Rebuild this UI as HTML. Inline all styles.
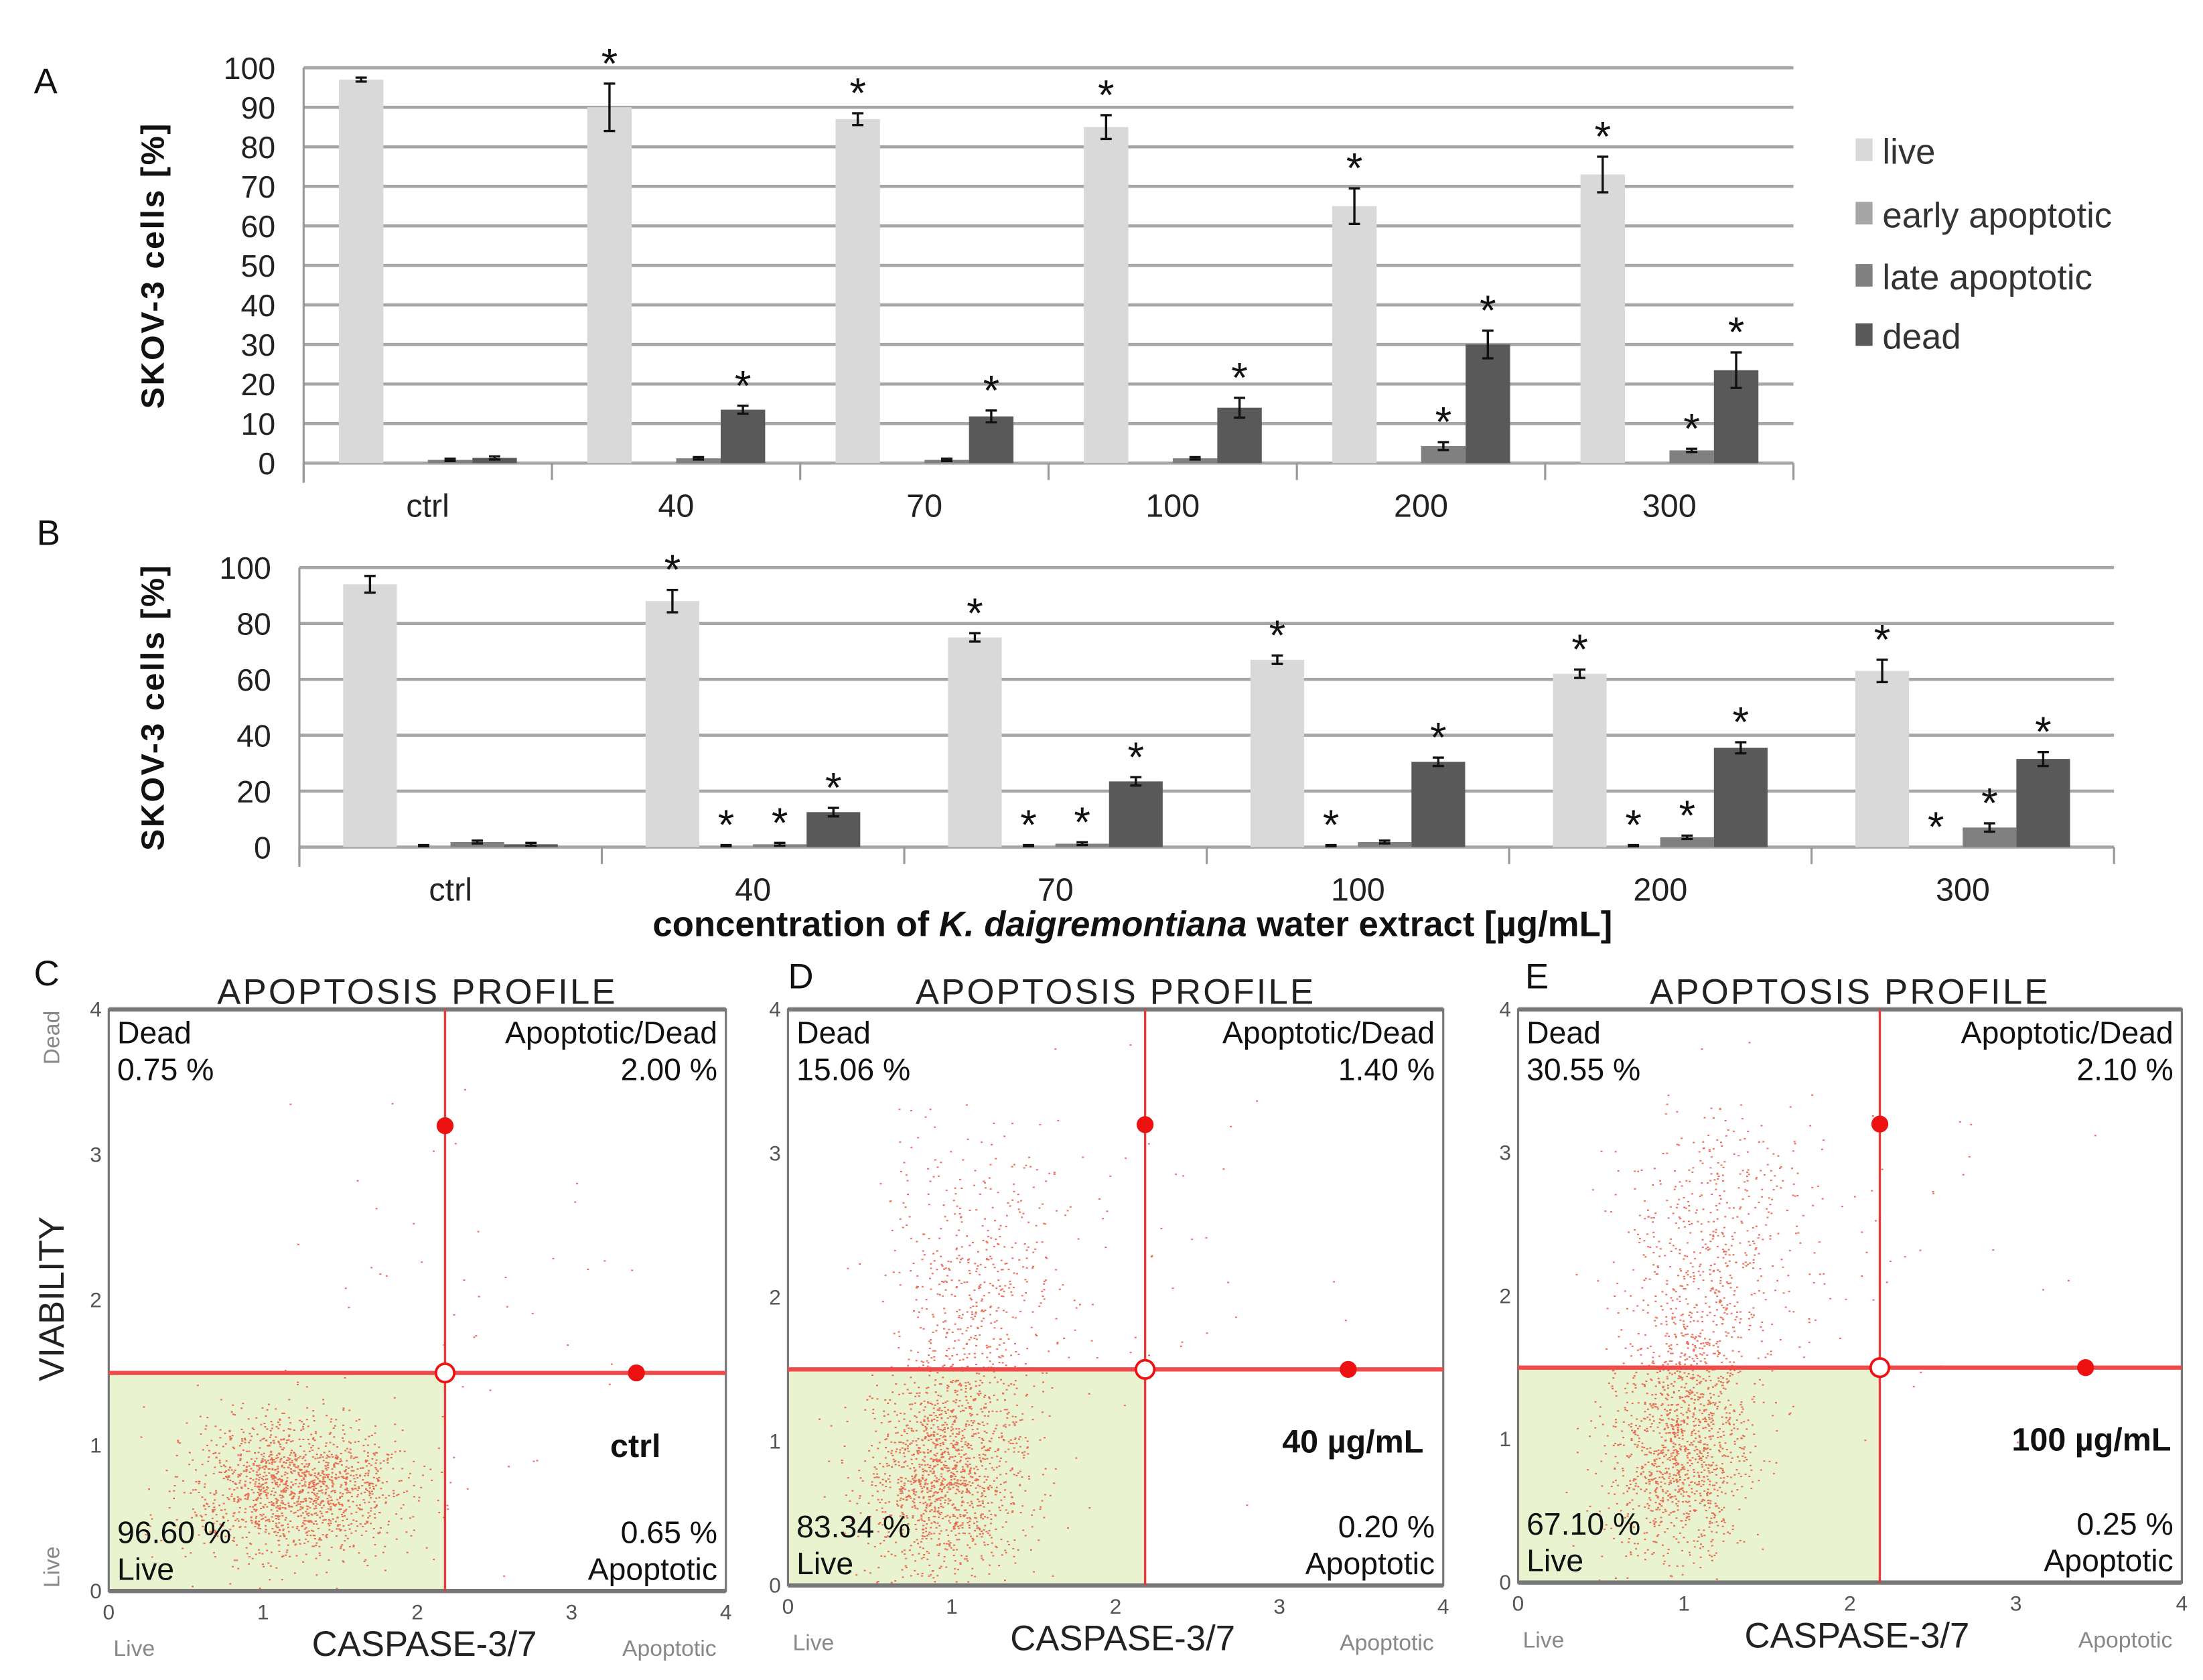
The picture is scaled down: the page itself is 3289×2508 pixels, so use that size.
<!DOCTYPE html>
<html><head><meta charset="utf-8">
<style>
html,body{margin:0;padding:0;background:#fff;}
svg{display:block;font-family:"Liberation Sans",sans-serif;}
</style></head>
<body>
<svg id="fig" width="3289" height="2508" viewBox="0 0 1560 1190" preserveAspectRatio="none" xmlns="http://www.w3.org/2000/svg">
<rect width="1560" height="1190" fill="#fff"/>
<g id="chartA"></g>
<g id="chartB"></g>
<g id="scatters"></g>
<g font-size="25" fill="#111">
<text x="24" y="66">A</text>
<text x="26" y="386">B</text>
<text x="24" y="698">C</text>
<text x="558" y="700">D</text>
<text x="1080" y="700">E</text>
</g>
<g font-size="25" fill="#333">
<rect x="1314" y="98" width="12" height="16" fill="#d9d9d9"/>
<text x="1333" y="116">live</text>
<rect x="1314" y="143" width="12" height="16" fill="#a6a6a6"/>
<text x="1333" y="161">early apoptotic</text>
<rect x="1314" y="187" width="12" height="16" fill="#808080"/>
<text x="1333" y="205">late apoptotic</text>
<rect x="1314" y="229" width="12" height="16" fill="#595959"/>
<text x="1333" y="247">dead</text>
</g>
<text x="802" y="663" text-anchor="middle" font-size="25" font-weight="bold" fill="#111">concentration of <tspan font-style="italic">K. daigremontiana</tspan> water extract [µg/mL]</text>
</svg>
<script>
const categories = ["ctrl","40","70","100","200","300"];
const seriesColors = ["#d9d9d9","#a6a6a6","#808080","#595959"];
const seriesNames = ["live","early","late","dead"];
// Chart A
const aLive = [97,90,87,85,65,73];
const aLiveErr = [0.5,6,1.5,3,4.5,4.5];
const aEarly = [0.3,0.3,0.3,0.3,0.3,0.3];
const aEarlyErr = [0,0,0,0,0,0];
const aLate = [0.8,1.2,0.8,1.2,4.3,3.2];
const aLateErr = [0.3,0.3,0.3,0.3,1,0.4];
const aDead = [1.3,13.5,11.8,14,30,23.5];
const aDeadErr = [0.4,1,1.5,2.5,3.5,4.5];
const aStars = [[0,1,1,1,1,1],[0,0,0,0,0,0],[0,0,0,0,1,1],[0,1,1,1,1,1]];
const aTicks = [0,10,20,30,40,50,60,70,80,90,100];
// Chart B
const bLive = [94,88,75,67,62,63];
const bLiveErr = [3,4,1.5,1.5,1.5,4];
const bEarly = [0.5,0.5,0.5,0.5,0.5,0];
const bEarlyErr = [0.2,0.2,0.2,0.2,0.2,0];
const bLate = [1.8,1,1.2,1.8,3.5,7];
const bLateErr = [0.5,0.5,0.5,0.5,0.6,1.5];
const bDead = [1,12.5,23.5,30.5,35.5,31.5];
const bDeadErr = [0.5,1.5,1.5,1.5,2,2.5];
const bStars = [[0,1,1,1,1,1],[0,1,1,1,1,1],[0,1,1,0,1,1],[0,1,1,1,1,1]];
const bTicks = [0,20,40,60,80,100];

const NS = "http://www.w3.org/2000/svg";
function mk(tag, attrs, parent){const e=document.createElementNS(NS,tag);for(const k in attrs)e.setAttribute(k,attrs[k]);parent.appendChild(e);return e;}

function drawBar(g, cfg){
  const {x0,x1,y0,y1,ticks,series,errs,stars,pad,bw,labelY} = cfg;
  const yS = v => y0 - (v/100)*(y0-y1);
  const gw = (x1-x0)/categories.length;
  ticks.forEach(t=>{
    const l = mk("line",{x1:x0,x2:x1,y1:yS(t),y2:yS(t),stroke:"#a6a6a6","stroke-width":2.2},g);
    
    
    const tx = mk("text",{x:x0-20,y:yS(t)+8,"text-anchor":"end","font-size":22,fill:"#222"},g);
    tx.textContent=t;
    
    
  });
  const ax = mk("line",{x1:x0,x2:x0,y1:y1,y2:y0+14,stroke:"#999","stroke-width":1.5},g);
  
  
  for(let i=0;i<=categories.length;i++){
    const t = mk("line",{x1:x0+i*gw,x2:x0+i*gw,y1:y0,y2:y0+12,stroke:"#999","stroke-width":1.5},g);
    
    
  }
  categories.forEach((c,i)=>{
    const tx = mk("text",{x:x0+i*gw+gw/2,y:labelY,"text-anchor":"middle","font-size":23,fill:"#222"},g);
    tx.textContent=c;
    
    
    series.forEach((s,j)=>{
      const bx = x0+i*gw+pad+j*bw;
      const v=s[i], yt=yS(v);
      const r = mk("rect",{x:bx,y:yt,width:bw,height:y0-yt,fill:seriesColors[j]},g);
      
      
      const e=errs[j][i], cx=bx+bw/2;
      let top=yt;
      if(e>0){
        const ya=yS(v+e), yb=yS(Math.max(0,v-e));
        const eb = mk("path",{d:`M${cx},${ya}V${yb}M${cx-4},${ya}H${cx+4}M${cx-4},${yb}H${cx+4}`,stroke:"#111","stroke-width":1.6,fill:"none"},g);
        
        
        top=ya;
      }
      if(stars[j][i]){
        const st = mk("text",{x:cx,y:top-4,"text-anchor":"middle","font-size":30,fill:"#111"},g);
        st.textContent="*";
        
        
      }
    });
  });
  const yt = mk("text",{x:0,y:0,"text-anchor":"middle","font-size":23,"font-weight":"bold","letter-spacing":1.2,fill:"#111",transform:`translate(${cfg.titleX},${(y0+y1)/2}) rotate(-90)`},g);
  yt.textContent="SKOV-3 cells [%]";
  
  
}
drawBar(document.getElementById('chartA'),{x0:215,x1:1270,y0:328,y1:48,ticks:aTicks,series:[aLive,aEarly,aLate,aDead],errs:[aLiveErr,aEarlyErr,aLateErr,aDeadErr],stars:aStars,pad:25,bw:31.5,labelY:366,titleX:116});
drawBar(document.getElementById('chartB'),{x0:212,x1:1497,y0:600,y1:402,ticks:bTicks,series:[bLive,bEarly,bLate,bDead],errs:[bLiveErr,bEarlyErr,bLateErr,bDeadErr],stars:bStars,pad:31,bw:38,labelY:638,titleX:116});

// Scatter panels
const panelLabels = ["ctrl","40 µg/mL","100 µg/mL"];
const deadPct = ["0.75 %","15.06 %","30.55 %"];
const apDeadPct = ["2.00 %","1.40 %","2.10 %"];
const livePct = ["96.60 %","83.34 %","67.10 %"];
const apPct = ["0.65 %","0.20 %","0.25 %"];
const axisTicks = [0,1,2,3,4];
const panels = [
 {x0:77,x1:514,yT:715,yB:1127,vx:2.18,hy:1.5,clusters:[[1.2,0.72,0.35,0.24,1500],[2.2,2.0,0.55,0.6,45]]},
 {x0:558,x1:1022,yT:715,yB:1123,vx:2.18,hy:1.5,clusters:[[0.95,0.75,0.25,0.35,1300],[1.1,1.55,0.2,0.5,350],[1.15,2.35,0.3,0.45,280],[2.2,2.1,0.5,0.6,40]]},
 {x0:1075,x1:1545,yT:715,yB:1121,vx:2.18,hy:1.5,clusters:[[0.95,0.85,0.22,0.4,1000],[1.05,1.5,0.17,0.45,350],[1.2,2.4,0.3,0.45,500],[2.2,2.3,0.5,0.6,40]]}
];
let seed=12345;
function rnd(){seed=(seed*16807)%2147483647;return (seed-1)/2147483646;}
function gauss(){let u=rnd()||1e-9,v=rnd();return Math.sqrt(-2*Math.log(u))*Math.cos(2*Math.PI*v);}
const sg=document.getElementById('scatters');
panels.forEach((p,k)=>{
  const g=mk("g",{},sg);
  
  
  const xs=v=>p.x0+(v/4)*(p.x1-p.x0), ys=v=>p.yB-(v/4)*(p.yB-p.yT);
  const vx=xs(p.vx), hy=ys(p.hy);
  const gr=mk("rect",{x:p.x0,y:hy,width:vx-p.x0,height:p.yB-hy,fill:"#e9f3cf"},g);
  
  
  let d="";
  p.clusters.forEach(c=>{for(let i=0;i<c[4];i++){const x=c[0]+gauss()*c[2],y=c[1]+gauss()*c[3];if(x<0.02||x>3.98||y<0.02||y>3.98)continue;d+=`M${xs(x).toFixed(1)},${ys(y).toFixed(1)}h1.4v1h-1.4z`;}});
  const pts=mk("path",{d:d,fill:"#e8402a","fill-opacity":0.75},g);
  
  
  const box=mk("rect",{x:p.x0,y:p.yT,width:p.x1-p.x0,height:p.yB-p.yT,fill:"none",stroke:"#777","stroke-width":1.5},g);
  
  
  mk("line",{x1:p.x0,x2:p.x1,y1:p.yT,y2:p.yT,stroke:"#777","stroke-width":3},g);
  mk("line",{x1:p.x0,x2:p.x1,y1:p.yB,y2:p.yB,stroke:"#777","stroke-width":3},g);
  const hl=mk("line",{x1:p.x0,x2:p.x1,y1:hy,y2:hy,stroke:"#f04a4a","stroke-width":3},g);
  
  
  const vl=mk("line",{x1:vx,x2:vx,y1:p.yT,y2:p.yB,stroke:"#e83a3a","stroke-width":1.6},g);
  
  
  const h1=mk("circle",{cx:vx,cy:ys(3.2),r:6,fill:"#ee1111"},g);
  
  
  const h2=mk("circle",{cx:xs(3.42),cy:hy,r:6,fill:"#ee1111"},g);
  
  
  const h3=mk("circle",{cx:vx,cy:hy,r:6.5,fill:"#fff",stroke:"#ee1111","stroke-width":1.8},g);
  
  
  axisTicks.forEach(t=>{
    const a=mk("text",{x:xs(t),y:p.yB+20,"text-anchor":"middle","font-size":15,fill:"#555"},g);
    a.textContent=t;
    
    
    const b=mk("text",{x:p.x0-5,y:ys(t)+5,"text-anchor":"end","font-size":15,fill:"#555"},g);
    b.textContent=t;
    
    
  });
  const texts=[
   ["APOPTOSIS PROFILE",(p.x0+p.x1)/2,p.yT-4,"middle",25,"#222","panel-title"],
   ["Dead",p.x0+6,p.yT+24,"start",22,"#111","quadrant-dead-label"],
   [deadPct[k],p.x0+6,p.yT+50,"start",22,"#111","quadrant-dead-pct"],
   ["Apoptotic/Dead",p.x1-6,p.yT+24,"end",22,"#111","quadrant-apdead-label"],
   [apDeadPct[k],p.x1-6,p.yT+50,"end",22,"#111","quadrant-apdead-pct"],
   [livePct[k],p.x0+6,p.yB-34,"start",22,"#111","quadrant-live-pct"],
   ["Live",p.x0+6,p.yB-8,"start",22,"#111","quadrant-live-label"],
   [apPct[k],p.x1-6,p.yB-34,"end",22,"#111","quadrant-ap-pct"],
   ["Apoptotic",p.x1-6,p.yB-8,"end",22,"#111","quadrant-ap-label"],
   ["CASPASE-3/7",(p.x0+p.x1)/2+5,p.yB+46,"middle",25,"#222","x-axis-title"],
   ["Live",p.x0+18,p.yB+46,"middle",16,"#888","x-axis-live-label"],
   ["Apoptotic",p.x1-40,p.yB+46,"middle",16,"#888","x-axis-apoptotic-label"]
  ];
  texts.forEach(t=>{
    const e=mk("text",{x:t[1],y:t[2],"text-anchor":t[3],"font-size":t[4],fill:t[5]},g);
    if(t[6]==="panel-title") e.setAttribute('letter-spacing','1.5');
    e.textContent=t[0];
    
    
  });
  const lab=mk("text",{x:p.x1-64,y:ys(1.0)+8,"text-anchor":"middle","font-size":23,"font-weight":"bold",fill:"#111"},g);
  lab.textContent=panelLabels[k];
  
  
});
// y-axis labels for panel C
const vg=mk("g",{},sg);


[["VIABILITY",45,920,25,"#222"],["Dead",42,735,16,"#888"],["Live",42,1110,16,"#888"]].forEach(t=>{
  const e=mk("text",{x:0,y:0,"text-anchor":"middle","font-size":t[3],fill:t[4],transform:`translate(${t[1]},${t[2]}) rotate(-90)`},vg);
  e.textContent=t[0];
  
  
});
</script>
</body></html>
